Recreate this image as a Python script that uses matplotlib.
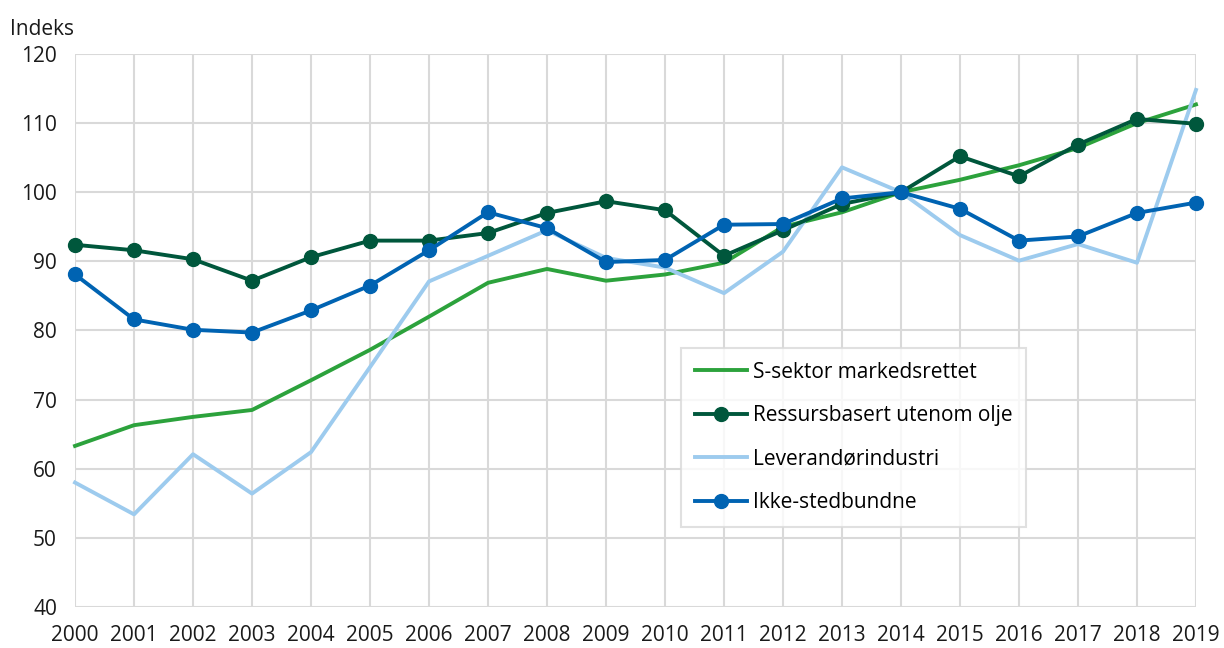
import matplotlib.pyplot as plt

years = list(range(2000, 2020))
s_sektor = [63.3, 66.3, 67.5, 68.5, 72.8, 77.2, 82.0, 86.9, 88.9, 87.2,
            88.1, 89.8, 95.0, 97.1, 100.0, 101.8, 103.9, 106.4, 110.0, 112.7]
ressurs = [92.4, 91.6, 90.3, 87.2, 90.6, 93.0, 93.0, 94.1, 97.0, 98.7,
           97.4, 90.8, 94.5, 98.3, 100.0, 105.2, 102.3, 106.9, 110.6, 109.9]
leverandor = [58.0, 53.4, 62.1, 56.4, 62.4, 74.7, 87.1, 90.8, 94.5, 90.5,
              89.1, 85.4, 91.4, 103.6, 100.0, 93.8, 90.1, 92.5, 89.8, 114.8]
ikke_sted = [88.1, 81.6, 80.1, 79.7, 82.9, 86.5, 91.6, 97.1, 94.8, 89.9,
             90.2, 95.3, 95.4, 99.1, 100.0, 97.6, 93.0, 93.6, 97.0, 98.5]
labels = ["S-sektor markedsrettet", "Ressursbasert utenom olje",
          "Leverandørindustri", "Ikke-stedbundne"]
colors = ["#2ca23c", "#00573c", "#9dcbee", "#0063b2"]

plt.rcParams["font.family"] = ["Open Sans", "DejaVu Sans"]

fig = plt.figure(figsize=(12.24, 6.48), dpi=100)
ax = fig.add_axes([0.0613, 0.0633, 0.9158, 0.8534])

ax.plot(years, s_sektor, color=colors[0], lw=2.8, label=labels[0], clip_on=False, zorder=3)
ax.plot(years, ressurs, color=colors[1], lw=2.8, marker="o", ms=10, label=labels[1], clip_on=False, zorder=4)
ax.plot(years, leverandor, color=colors[2], lw=2.8, label=labels[2], clip_on=False, zorder=3)
ax.plot(years, ikke_sted, color=colors[3], lw=2.8, marker="o", ms=10, label=labels[3], clip_on=False, zorder=5)

ax.set_xlim(2000, 2019)
ax.set_ylim(40, 120)
ax.set_xticks(years)
ax.set_yticks(range(40, 121, 10))
ax.grid(True, color="#d9d9d9", lw=1.5)
ax.set_axisbelow(True)
for s in ax.spines.values():
    s.set_visible(False)
ax.tick_params(length=0, labelsize=15, colors="#1a1a1a")
ax.tick_params(axis="x", pad=13)
ax.tick_params(axis="y", pad=13)
fig.text(0.008, 0.955, "Indeks", fontsize=15, color="#1a1a1a", va="center")

leg = ax.legend(loc="upper left", bbox_to_anchor=(0.5406, 0.468), borderaxespad=0,
                fontsize=15, frameon=True, fancybox=False, handlelength=2.5,
                handletextpad=0.3, labelspacing=1.08, borderpad=0.65)
leg.get_frame().set_edgecolor("#d9d9d9")
leg.get_frame().set_linewidth(1.5)

fig.savefig("out.png", dpi=100)
